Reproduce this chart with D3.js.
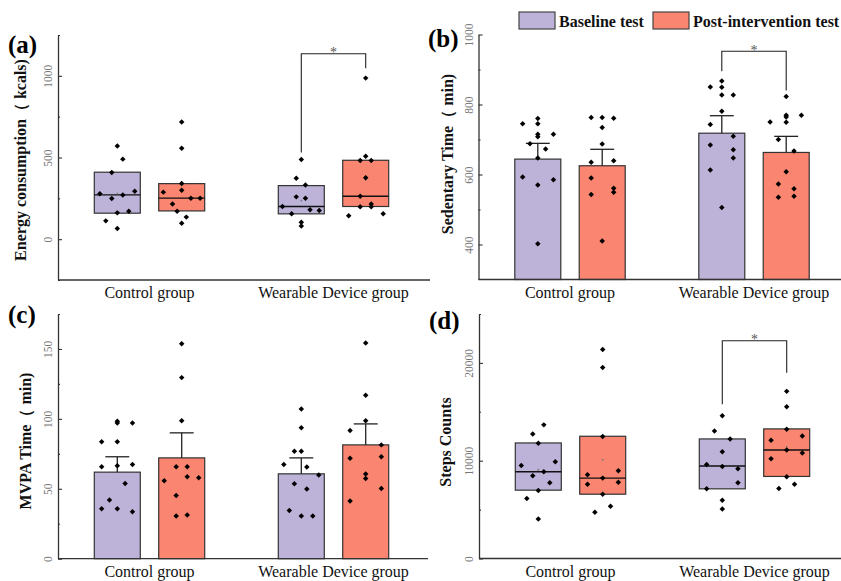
<!DOCTYPE html>
<html>
<head>
<meta charset="utf-8">
<script src="https://d3js.org/d3.v7.min.js"></script>
<style>
  body { margin: 0; background: #fff; }
  svg text { font-family: "Liberation Serif", "Times New Roman", serif; }
</style>
</head>
<body>
<svg id="chart" width="841" height="581"></svg>
<script>
// categories / series
const groups = ["Control group", "Wearable Device group"];
const series = ["Baseline test", "Post-intervention test"];
const colors = ["#bdb3d8", "#fa8570"];

// (a) Energy consumption, box = [q1, median, q3]
const aBox = [[159, 271, 410], [173, 251, 340], [155, 200, 328], [200, 263, 483]];
const aPts = [
  [571, 490, 408, 278, 249, 271, 294, 161, 171, 112, 65],
  [718, 557, 341, 300, 288, 216, 251, 251, 171, 135, 98],
  [488, 373, 331, 259, 251, 200, 180, 176, 155, 104, 80],
  [986, 508, 482, 482, 376, 263, 198, 198, 216, 143, 155]
];
// horizontal spread of points, fraction of bar width
const aJit = [
  [0, 0.12, -0.12, -0.38, -0.12, 0.12, 0.38, 0, 0.25, -0.25, 0],
  [0, 0, 0, 0, -0.4, -0.2, 0.4, 0.2, -0.1, 0.1, 0],
  [0, -0.11, 0.09, -0.11, 0.09, -0.41, 0.19, 0.39, -0.21, 0, 0],
  [0, 0, -0.12, 0.12, 0, -0.12, -0.12, 0.12, 0.12, -0.37, 0.38]
];
const aSig = [530, 1135, 1047];

// (b) Sedentary time, mean and SE
const bMean = [644, 625, 718, 663];
const bSE = [45, 47, 50, 46];
const bPts = [
  [760, 745, 745, 715, 708, 715, 688, 673, 647, 593, 585, 570, 402],
  [763, 763, 761, 734, 687, 635, 639, 590, 543, 561, 549, 410],
  [850, 867, 849, 827, 827, 781, 743, 709, 684, 671, 647, 613, 506],
  [823, 769, 764, 769, 750, 749, 700, 667, 608, 573, 559, 535, 538]
];
const bJit = [
  [0, 0, -0.33, 0, 0, 0.34, -0.17, 0.17, 0, -0.33, 0.34, 0, 0],
  [-0.24, 0, 0.25, 0, 0, -0.24, 0.25, -0.24, -0.24, 0.25, 0.25, 0],
  [-0.25, 0, 0, 0, 0.25, 0, -0.25, 0.25, -0.25, 0.25, 0.25, -0.25, 0],
  [0, 0, 0, 0.33, -0.35, 0, -0.17, 0.17, 0, -0.17, 0.17, -0.17, 0.17]
];
const bSig = [895, 952, 840];

// (c) MVPA time, mean and SE
const cMean = [61.9, 72.1, 60.7, 81.4];
const cSE = [11, 17.9, 11.4, 15];
const cPts = [
  [98.3, 97.1, 97.1, 83.6, 83.6, 65.7, 66.4, 67.4, 53.8, 41.9, 35.7, 35.7, 33.6],
  [153.8, 129.5, 98.6, 65.7, 65.7, 58.6, 57.9, 55.7, 45.2, 30.5, 31.2],
  [107.1, 93.6, 76.9, 76.9, 67.4, 65.5, 59.8, 53.6, 49.8, 34.5, 30.5, 30.5],
  [154.3, 116.9, 98.6, 91.7, 81.4, 71.9, 72.9, 60.5, 57.4, 50.2, 41.2]
];
const cJit = [
  [0, 0, 0.33, -0.34, 0, -0.34, 0, 0.33, 0.17, -0.17, -0.34, 0, 0.33],
  [0, 0, 0, -0.12, 0.12, 0.12, 0.37, -0.38, -0.12, -0.12, 0.12],
  [0, 0, -0.15, 0, -0.38, 0.12, 0.38, -0.15, 0.12, -0.26, 0, 0.25],
  [0, 0, 0, -0.34, 0.34, -0.34, 0.34, 0, 0, 0.34, -0.34]
];

// (d) Steps counts, box = [q1, median, q3]
const dBox = [[6986, 8870, 11815], [6575, 8219, 12500], [7123, 9452, 12226], [8390, 11096, 13253]];
const dPts = [
  [13664, 12740, 11781, 9520, 9897, 8459, 8870, 7740, 6952, 6130, 4041],
  [21370, 19520, 12466, 8562, 8219, 8973, 7603, 7808, 6575, 5342, 4726],
  [14589, 13048, 12226, 10925, 9623, 9418, 9178, 7740, 7123, 5959, 5068],
  [17089, 15514, 13219, 12089, 12534, 11096, 10205, 10788, 8356, 7158, 7603]
];
const dJit = [
  [0.12, -0.12, 0, -0.37, 0.37, -0.12, 0.12, 0.25, 0, -0.25, 0],
  [0, 0, 0, -0.33, 0, 0.34, -0.33, 0.34, 0, 0.17, -0.17],
  [0, -0.17, 0.17, 0, -0.34, 0, 0.34, 0.34, -0.34, 0, 0],
  [0, 0, 0, -0.34, 0.34, 0, -0.34, 0.34, 0, -0.17, 0.17]
];
const dSig = [15773, 22268, 19003];

const svg = d3.select("#chart");

const panels = [
  { tag: "(a)", type: "box", title: "Energy consumption\uFF08 kcals)", domain: [-250, 1250], major: [0, 500, 1000], minor: [-250, 250, 750, 1250],
    box: aBox, pts: aPts, jit: aJit, sig: aSig,
    left: 58, top: 35, bottom: 280, right: 430, tagX: 8, tagY: 53, titleX: 26, titleY: 160 },
  { tag: "(b)", type: "bar", title: "Sedentary Time\uFF08 min)", domain: [300, 1000], major: [400, 600, 800, 1000], minor: [500, 700, 900],
    mean: bMean, se: bSE, pts: bPts, jit: bJit, sig: bSig,
    left: 478.5, top: 34.5, bottom: 279.5, right: 850, tagX: 428, tagY: 47, titleX: 453, titleY: 154 },
  { tag: "(c)", type: "bar", title: "MVPA Time\uFF08 min)", domain: [0, 175], major: [0, 50, 100, 150], minor: [25, 75, 125, 175],
    mean: cMean, se: cSE, pts: cPts, jit: cJit, sig: null,
    left: 58, top: 314, bottom: 558.7, right: 428, tagX: 8, tagY: 323, titleX: 31, titleY: 441 },
  { tag: "(d)", type: "box", title: "Steps Counts", domain: [0, 25000], major: [0, 10000, 20000], minor: [5000, 15000, 25000],
    box: dBox, pts: dPts, jit: dJit, sig: dSig,
    left: 479, top: 314, bottom: 558.5, right: 850, tagX: 429, tagY: 329, titleX: 451, titleY: 442 }
];

panels.forEach(drawPanel);

function drawPanel(p) {
  const g = svg.append("g");
  const y = d3.scaleLinear().domain(p.domain).range([p.bottom, p.top]);
  const xg = d3.scalePoint().domain(groups).range([p.left + 91.5, p.left + 275.5]);
  const xs = d3.scaleBand().domain(series).range([-55.2, 55.2]).paddingInner(0.286);
  const bw = xs.bandwidth();

  // cells: one per group x series
  const cells = [];
  groups.forEach((gr, gi) => series.forEach((s, si) => {
    const k = gi * 2 + si;
    cells.push({ k, si, x: xg(gr) + xs(s), cx: xg(gr) + xs(s) + bw / 2 });
  }));

  if (p.type === "bar") {
    g.selectAll(".bar").data(cells).enter().append("rect")
      .attr("x", d => d.x)
      .attr("y", d => y(p.mean[d.k]))
      .attr("width", bw)
      .attr("height", d => y(p.domain[0]) - y(p.mean[d.k]))
      .attr("fill", d => colors[d.si])
      .attr("stroke", "#333").attr("stroke-width", 1.2);
    const eb = g.selectAll(".err").data(cells).enter().append("g");
    eb.append("line")
      .attr("x1", d => d.cx).attr("x2", d => d.cx)
      .attr("y1", d => y(p.mean[d.k])).attr("y2", d => y(p.mean[d.k] + p.se[d.k]))
      .attr("stroke", "#222").attr("stroke-width", 1.3);
    eb.append("line")
      .attr("x1", d => d.cx - bw * 0.26).attr("x2", d => d.cx + bw * 0.26)
      .attr("y1", d => y(p.mean[d.k] + p.se[d.k])).attr("y2", d => y(p.mean[d.k] + p.se[d.k]))
      .attr("stroke", "#222").attr("stroke-width", 1.3);
  } else {
    g.selectAll(".box").data(cells).enter().append("rect")
      .attr("x", d => d.x)
      .attr("y", d => y(p.box[d.k][2]))
      .attr("width", bw)
      .attr("height", d => y(p.box[d.k][0]) - y(p.box[d.k][2]))
      .attr("fill", d => colors[d.si])
      .attr("stroke", "#333").attr("stroke-width", 1.2);
    g.selectAll(".med").data(cells).enter().append("line")
      .attr("x1", d => d.x).attr("x2", d => d.x + bw)
      .attr("y1", d => y(p.box[d.k][1])).attr("y2", d => y(p.box[d.k][1]))
      .attr("stroke", "#111").attr("stroke-width", 1.4);
    g.selectAll(".mean").data(cells).enter().append("circle")
      .attr("cx", d => d.cx).attr("cy", d => y(d3.mean(p.pts[d.k])))
      .attr("r", 0.9).attr("fill", "#777");
  }

  // individual points
  const dots = [];
  cells.forEach(c => p.pts[c.k].forEach((v, i) => dots.push({ x: c.cx + p.jit[c.k][i] * bw, y: y(v) })));
  g.selectAll(".pt").data(dots).enter().append("path")
    .attr("d", d3.symbol().type(d3.symbolSquare).size(15))
    .attr("transform", d => `translate(${d.x},${d.y}) rotate(45)`)
    .attr("fill", "#000");

  // significance bracket
  if (p.sig) {
    const x1 = cells[2].cx, x2 = cells[3].cx;
    g.append("path")
      .attr("d", d3.line()([[x1, y(p.sig[0])], [x1, y(p.sig[1])], [x2, y(p.sig[1])], [x2, y(p.sig[2])]]))
      .attr("fill", "none").attr("stroke", "#222").attr("stroke-width", 1.1);
    g.append("text").attr("x", (x1 + x2) / 2).attr("y", y(p.sig[1]) + 3.5)
      .attr("text-anchor", "middle").attr("font-size", 14).attr("fill", "#555").text("*");
  }

  // y axis: major and minor inward ticks, rotated labels
  const ya = g.append("g").attr("transform", `translate(${p.left},0)`)
    .call(d3.axisLeft(y).tickValues(p.major).tickFormat(d3.format("d"))
      .tickSizeInner(-4).tickSizeOuter(0).tickPadding(0));
  ya.select(".domain").attr("stroke", "#333").attr("stroke-width", 1.3);
  ya.selectAll(".tick line").attr("stroke", "#333").attr("stroke-width", 1.1);
  ya.selectAll("text")
    .attr("x", null).attr("dy", null)
    .attr("transform", "translate(-6,0) rotate(-90)")
    .attr("text-anchor", "middle")
    .attr("font-family", "Liberation Serif, serif")
    .attr("font-size", 11.5).attr("fill", "#777");
  const ym = g.append("g").attr("transform", `translate(${p.left},0)`)
    .call(d3.axisLeft(y).tickValues(p.minor).tickSizeInner(-2).tickSizeOuter(0).tickFormat(""));
  ym.select(".domain").remove();
  ym.selectAll(".tick line").attr("stroke", "#333").attr("stroke-width", 1.1);

  // x axis line and category labels
  g.append("line")
    .attr("x1", p.left).attr("x2", p.right).attr("y1", p.bottom).attr("y2", p.bottom)
    .attr("stroke", "#333").attr("stroke-width", 1.3);
  g.selectAll(".xl").data(groups).enter().append("text")
    .attr("x", d => xg(d)).attr("y", p.bottom + 18)
    .attr("text-anchor", "middle").attr("font-size", 16).attr("fill", "#111")
    .text(d => d);

  // axis title and panel tag
  g.append("text")
    .attr("transform", `translate(${p.titleX},${p.titleY}) rotate(-90)`)
    .attr("text-anchor", "middle").attr("font-size", 16).attr("font-weight", "bold").attr("fill", "#111")
    .text(p.title);
  g.append("text").attr("x", p.tagX).attr("y", p.tagY)
    .attr("font-size", 25).attr("font-weight", "bold").attr("fill", "#000")
    .text(p.tag);
}

// legend
const legX = [519, 653];
const leg = svg.append("g");
series.forEach((s, i) => {
  leg.append("rect").attr("x", legX[i]).attr("y", 12).attr("width", 36).attr("height", 17)
    .attr("fill", colors[i]).attr("stroke", "#444").attr("stroke-width", 1.2);
  leg.append("text").attr("x", legX[i] + 40).attr("y", 26.5)
    .attr("font-size", 16).attr("font-weight", "bold").attr("fill", "#111").text(s);
});
</script>
</body>
</html>
